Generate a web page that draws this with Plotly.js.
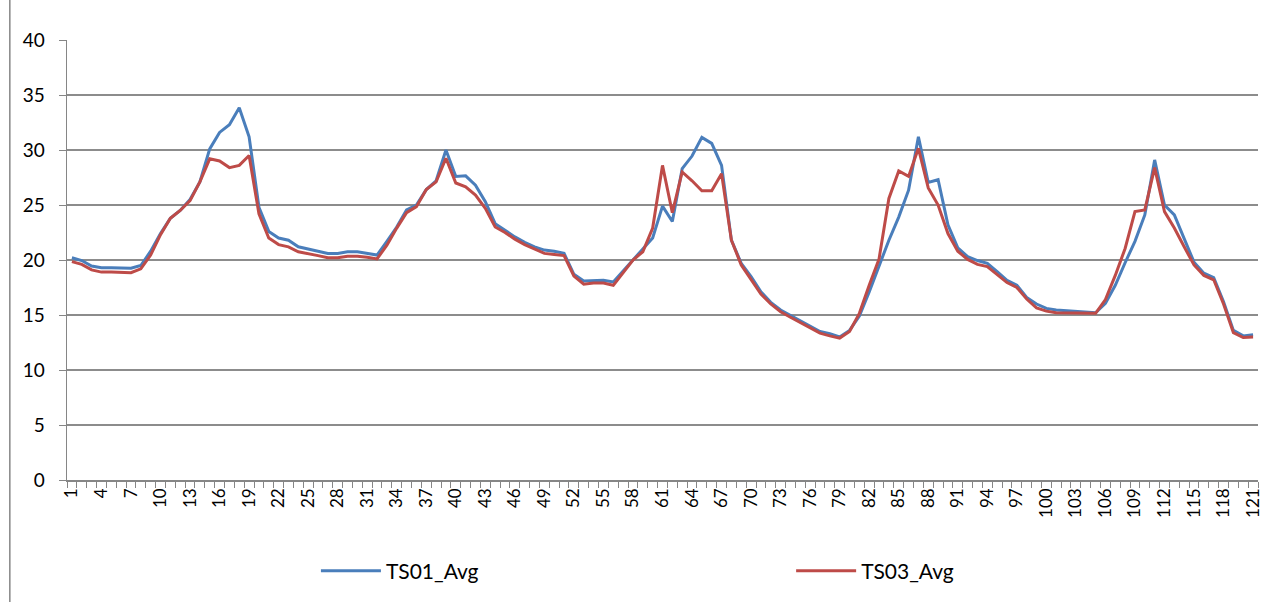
<!DOCTYPE html>
<html>
<head>
<meta charset="utf-8">
<script src="https://cdn.plot.ly/plotly-3.0.1.min.js"></script>
<style>html,body{margin:0;padding:0;background:#fff;}#chart{width:1263px;height:602px;}</style>
</head>
<body>
<div id="chart"></div>
<script>
const seriesNames = ["TS01_Avg", "TS03_Avg"];
const ts01 = [
20.2,19.95,19.45,19.3,19.3,19.3,19.25,19.5,20.8,22.4,
23.8,24.5,25.5,27.1,30.1,31.6,32.3,33.85,31.2,24.8,
22.6,22.0,21.8,21.2,21.0,20.8,20.6,20.6,20.75,20.75,
20.6,20.45,21.7,23.0,24.55,25.0,26.4,27.2,30.0,27.6,
27.65,26.8,25.3,23.3,22.7,22.1,21.6,21.2,20.9,20.8,
20.6,18.7,18.1,18.15,18.15,18.0,19.0,20.0,20.9,22.0,
24.9,23.5,28.3,29.45,31.15,30.6,28.6,21.8,19.7,18.5,
17.1,16.15,15.45,14.95,14.5,13.95,13.5,13.3,13.0,13.6,
14.9,17.1,19.5,21.8,23.9,26.35,31.2,27.05,27.3,23.2,
21.1,20.3,19.95,19.7,18.95,18.15,17.7,16.6,16.0,15.6,
15.45,15.4,15.35,15.3,15.2,16.05,17.7,19.75,21.7,24.1,
29.1,25.0,24.1,21.95,19.8,18.8,18.4,16.2,13.6,13.1,13.2
];
const ts03 = [
19.85,19.6,19.1,18.9,18.9,18.9,18.85,19.2,20.45,22.3,
23.8,24.5,25.4,27.1,29.2,29.0,28.4,28.6,29.5,24.2,
22.0,21.4,21.2,20.75,20.6,20.4,20.2,20.2,20.35,20.35,
20.25,20.1,21.35,22.9,24.3,24.85,26.4,27.1,29.25,27.0,
26.65,25.9,24.7,23.0,22.5,21.9,21.4,21.0,20.6,20.5,
20.4,18.55,17.8,17.9,17.9,17.7,18.9,20.0,20.75,22.9,
28.6,24.3,28.0,27.2,26.3,26.3,27.85,21.8,19.55,18.2,
16.9,16.0,15.3,14.8,14.3,13.8,13.35,13.1,12.9,13.5,
15.15,17.7,20.1,25.6,28.1,27.6,30.15,26.55,25.0,22.4,
20.8,20.05,19.6,19.4,18.7,17.95,17.5,16.45,15.65,15.35,
15.2,15.2,15.2,15.15,15.15,16.4,18.6,21.05,24.4,24.55,
28.4,24.4,22.9,21.2,19.55,18.6,18.2,16.0,13.4,12.95,13.0
];
const categories = ts01.map((_, i) => i + 1);
const tickLabels = categories.filter(c => (c - 1) % 3 === 0);
const yTicks = [0, 5, 10, 15, 20, 25, 30, 35, 40];

const fontFam = "Lato, 'Open Sans', sans-serif";
const traces = [
  {x: categories, y: ts01, name: seriesNames[0], type: 'scatter', mode: 'lines',
   line: {color: '#4a7ebb', width: 3}, legend: 'legend'},
  {x: categories, y: ts03, name: seriesNames[1], type: 'scatter', mode: 'lines',
   line: {color: '#be4b48', width: 3}, legend: 'legend2'}
];
const legendBase = {orientation: 'h', xanchor: 'left', y: -0.207, yanchor: 'middle',
  font: {size: 21, family: fontFam}, bgcolor: 'rgba(0,0,0,0)', itemwidth: 60};
const layout = {
  width: 1263, height: 602,
  margin: {l: 67, r: 5, t: 40, b: 122},
  paper_bgcolor: '#fff', plot_bgcolor: '#fff',
  font: {family: fontFam, size: 18, color: '#000'},
  showlegend: true,
  legend: Object.assign({}, legendBase, {x: 0.209}),
  legend2: Object.assign({}, legendBase, {x: 0.608}),
  xaxis: {
    type: 'linear', range: [0.5, 121.5], fixedrange: true,
    tickmode: 'array', tickvals: tickLabels, ticktext: tickLabels.map(String),
    tickangle: -90, ticks: '', tickfont: {size: 17}, ticklabeloverflow: 'allow',
    showgrid: false, zeroline: false,
    showline: true, linecolor: '#868686', linewidth: 1.5,
    minor: {tickmode: 'linear', tick0: 0.5, dtick: 1, ticks: 'outside', ticklen: 6,
            tickcolor: '#868686', tickwidth: 1, showgrid: false}
  },
  yaxis: {
    range: [0, 40], fixedrange: true,
    tickmode: 'array', tickvals: yTicks, ticktext: yTicks.map(String),
    ticks: 'outside', ticklen: 7, tickcolor: '#868686', tickwidth: 1,
    ticklabelstandoff: 10, tickfont: {size: 19},
    showgrid: true, gridcolor: '#8c8c8c', gridwidth: 1.3,
    zeroline: false, showline: true, linecolor: '#868686', linewidth: 1.5
  },
  shapes: [
    {type: 'line', xref: 'paper', yref: 'paper', x0: -0.048, x1: -0.048, y0: -0.28, y1: 1.1,
     line: {color: '#868686', width: 1.5}}
  ]
};
Plotly.newPlot('chart', traces, layout, {staticPlot: true, displayModeBar: false});
</script>
</body>
</html>
